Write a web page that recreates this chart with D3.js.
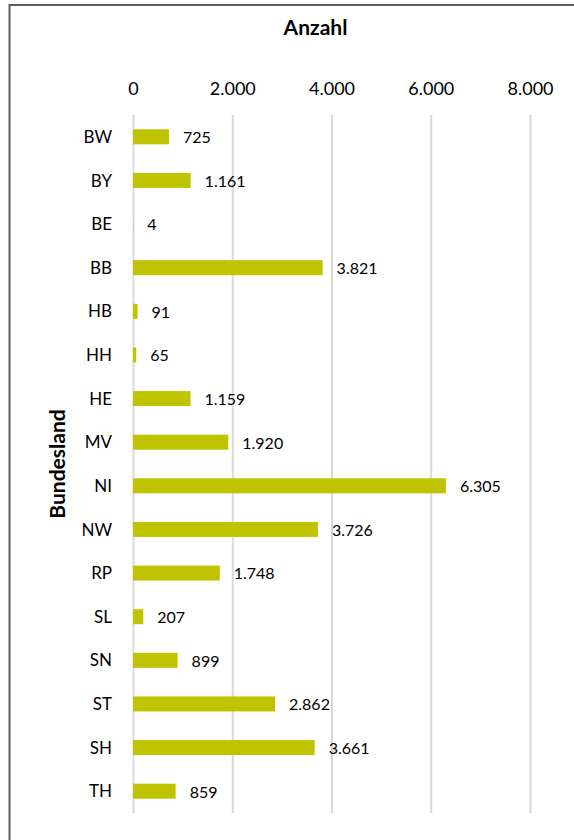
<!DOCTYPE html>
<html>
<head>
<meta charset="utf-8">
<script src="https://cdn.jsdelivr.net/npm/d3@7"></script>
<style>
  body { margin: 0; background: #fff; }
  svg { display: block; font-family: Lato, "Open Sans", sans-serif; }
</style>
</head>
<body>
<svg id="chart"></svg>
<script>
const states = ["BW", "BY", "BE", "BB", "HB", "HH", "HE", "MV", "NI", "NW", "RP", "SL", "SN", "ST", "SH", "TH"];
const counts = [725, 1161, 4, 3821, 91, 65, 1159, 1920, 6305, 3726, 1748, 207, 899, 2862, 3661, 859];
const xTicks = [0, 2000, 4000, 6000, 8000];
const xTitle = "Anzahl";
const yTitle = "Bundesland";

const data = states.map((s, i) => ({ state: s, value: counts[i] }));

const dimensions = {
  width: 574,
  height: 840,
  plot: { left: 133, right: 530, top: 115, bottom: 813 }
};

const de = d3.formatLocale({ decimal: ",", thousands: ".", grouping: [3], currency: ["", " €"] });
const fmt = de.format(",d");

const svg = d3.select("#chart")
  .attr("width", dimensions.width)
  .attr("height", dimensions.height);

svg.append("rect")
  .attr("width", dimensions.width)
  .attr("height", dimensions.height)
  .attr("fill", "#fff");

// outer frame (only left and top visible in the crop)
svg.append("path")
  .attr("d", `M9.5,${dimensions.height + 5} V5 H${dimensions.width + 5}`)
  .attr("fill", "none")
  .attr("stroke", "#5f5f5f")
  .attr("stroke-width", 2);

const { plot } = dimensions;

const xScale = d3.scaleLinear()
  .domain([0, 8000])
  .range([plot.left, plot.right]);

const yScale = d3.scaleBand()
  .domain(states)
  .range([plot.top, plot.bottom])
  .paddingInner(0.656)
  .paddingOuter(0.328);

// gridlines
const grid = svg.append("g")
  .attr("transform", `translate(0, ${plot.top})`)
  .call(d3.axisTop(xScale).tickValues(xTicks).tickSize(-(plot.bottom - plot.top)).tickFormat(""));
grid.select(".domain").remove();
grid.selectAll("line").attr("stroke", "#d9d9d9").attr("stroke-width", 2);

// x axis labels on top
const xAxis = svg.append("g")
  .attr("transform", `translate(0, ${plot.top})`)
  .call(d3.axisTop(xScale).tickValues(xTicks).tickSize(0).tickPadding(20).tickFormat(fmt));
xAxis.select(".domain").remove();
xAxis.selectAll("text")
  .attr("font-family", "Lato, sans-serif")
  .attr("font-size", 18)
  .attr("fill", "#000");

// y axis
const yAxis = svg.append("g")
  .attr("transform", `translate(${plot.left}, 0)`)
  .call(d3.axisLeft(yScale).tickSize(0).tickPadding(21));
yAxis.select(".domain").remove();
yAxis.selectAll("text")
  .attr("font-family", "Lato, sans-serif")
  .attr("font-size", 17)
  .attr("dy", "0.36em")
  .attr("fill", "#000");

// bars
svg.append("g")
  .selectAll("rect")
  .data(data)
  .join("rect")
  .attr("x", xScale(0))
  .attr("y", d => yScale(d.state))
  .attr("width", d => xScale(d.value) - xScale(0))
  .attr("height", yScale.bandwidth())
  .attr("fill", "#c0c400");

// value labels
svg.append("g")
  .selectAll("text")
  .data(data)
  .join("text")
  .attr("x", d => xScale(d.value) + 14)
  .attr("y", d => yScale(d.state) + yScale.bandwidth() / 2)
  .attr("dy", "0.4em")
  .attr("font-size", 16)
  .attr("fill", "#000")
  .text(d => fmt(d.value));

// titles
svg.append("text")
  .attr("x", 315.5)
  .attr("y", 35)
  .attr("text-anchor", "middle")
  .attr("font-size", 21)
  .attr("font-weight", "bold")
  .text(xTitle);

svg.append("text")
  .attr("text-anchor", "middle")
  .attr("transform", `translate(65, ${(plot.top + plot.bottom) / 2}) rotate(-90)`)
  .attr("font-size", 21)
  .attr("font-weight", "bold")
  .text(yTitle);
</script>
</body>
</html>
